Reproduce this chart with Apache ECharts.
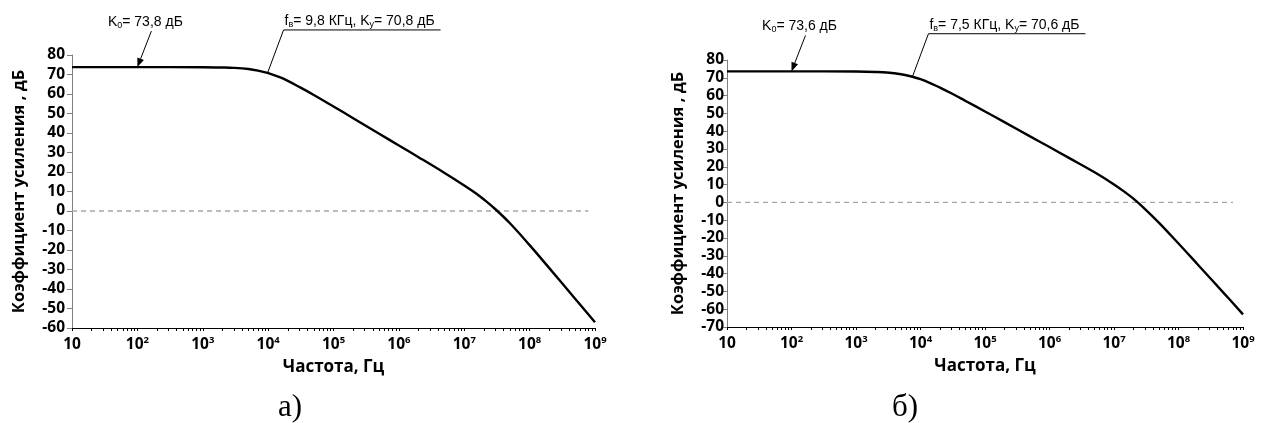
<!DOCTYPE html>
<html>
<head>
<meta charset="utf-8">
<script src="https://cdn.jsdelivr.net/npm/echarts@6/dist/echarts.min.js"></script>
<style>
  html, body { margin: 0; padding: 0; background: #fff; }
  #chart { width: 1264px; height: 423px; }
</style>
</head>
<body>
<div id="chart"></div>
<script>
// Frequency response of the amplifier, two variants (а and б)
const freqA = [10, 100, 1000, 2000, 3000, 5000, 7000, 9800, 15000, 20000, 30000, 50000,
  1e5, 2e5, 5e5, 1e6, 2e6, 5e6, 1e7, 1.5e7, 2e7, 3e7, 5e7, 1e8, 2e8, 5e8, 1e9];
const gainA = [73.8, 73.8, 73.75, 73.6, 73.4, 72.8, 72.0, 70.8, 68.6, 66.7, 63.6, 59.5,
  53.6, 47.6, 39.6, 33.6, 27.6, 19.5, 13.1, 9.1, 5.9, 0.9, -6.3, -17.5, -29.3, -45.1, -57.1];

const freqB = [10, 100, 1000, 2000, 3000, 5000, 7500, 10000, 15000, 20000, 30000, 50000,
  1e5, 2e5, 5e5, 1e6, 2e6, 5e6, 1e7, 1.5e7, 2e7, 3e7, 5e7, 1e8, 2e8, 5e8, 1e9];
const gainB = [73.6, 73.6, 73.5, 73.3, 73.0, 72.0, 70.6, 69.2, 66.6, 64.5, 61.3, 57.0,
  51.1, 45.1, 37.1, 31.1, 25.0, 16.9, 10.1, 5.6, 2.1, -3.6, -11.5, -23.1, -35.0, -50.8, -62.9];

// Annotated points: K0 at 100 Hz and the upper cutoff frequency
const noteA = { k0: 73.8, fb: 9800, kb: 70.8, fbText: '9,8', k0Text: '73,8', kbText: '70,8' };
const noteB = { k0: 73.6, fb: 7500, kb: 70.6, fbText: '7,5', k0Text: '73,6', kbText: '70,6' };

// Zero-level reference line extent
const zeroLineA = [[10, 0], [7.9e8, 0]];
const zeroLineB = [[10, 0], [7.0e8, 0]];

// Decade labels and ticks at 1..9 within every decade
const majorTicks = [10, 100, 1e3, 1e4, 1e5, 1e6, 1e7, 1e8, 1e9];
const allTicks = [];
for (let d = 10; d < 1e9; d *= 10) {
  for (let m = 1; m <= 9; m++) allTicks.push(d * m);
}
allTicks.push(1e9);

const axisFont = '"Open Sans", "DejaVu Sans", sans-serif';
const noteFont = '"Liberation Sans", Arial, sans-serif';

function xLabel(v) {
  const e = Math.round(Math.log10(v));
  return e === 1 ? '{b|10}' : '{b|10}{s|' + e + '}';
}

function xAxis(gridIndex) {
  return {
    type: 'log', gridIndex, min: 10, max: 1e9, logBase: 10, position: 'bottom',
    name: 'Частота, Гц', nameLocation: 'middle', nameGap: 31,
    nameTextStyle: { fontFamily: axisFont, fontWeight: 'bold', fontSize: 17, color: '#000' },
    axisLine: { onZero: false, lineStyle: { color: '#000', width: 1.2 } },
    axisTick: { customValues: allTicks, length: 3, lineStyle: { color: '#000' } },
    axisLabel: {
      customValues: majorTicks, margin: 7, formatter: xLabel,
      rich: {
        b: { fontFamily: axisFont, fontWeight: 'bold', fontSize: 15.5, color: '#000', lineHeight: 19 },
        s: { fontFamily: axisFont, fontWeight: 'bold', fontSize: 9.5, color: '#000', lineHeight: 10, verticalAlign: 'top' }
      }
    },
    splitLine: { show: false }
  };
}

function yAxis(gridIndex, min, gap, margin) {
  return {
    type: 'value', gridIndex, min, max: 80, interval: 10,
    name: 'Коэффициент усиления , дБ', nameLocation: 'middle', nameGap: gap,
    nameTextStyle: { fontFamily: axisFont, fontWeight: 'bold', fontSize: 16.5, color: '#000' },
    axisLine: { show: true, onZero: false, lineStyle: { color: '#808080', width: 1 } },
    axisTick: { show: true, length: 5, lineStyle: { color: '#808080' } },
    axisLabel: { fontFamily: axisFont, fontWeight: 'bold', fontSize: 15.5, color: '#000', margin },
    splitLine: { show: false }
  };
}

const chart = echarts.init(document.getElementById('chart'), null, { renderer: 'canvas' });

chart.setOption({
  backgroundColor: '#fff',
  animation: false,
  grid: [
    { left: 72, top: 55, width: 523, height: 273 },
    { left: 727, top: 60, width: 516, height: 267 }
  ],
  xAxis: [xAxis(0), xAxis(1)],
  yAxis: [yAxis(0, -60, 44, 7), yAxis(1, -70, 40, 3)],
  series: [
    {
      type: 'line', xAxisIndex: 0, yAxisIndex: 0, smooth: 0.4, symbol: 'none', z: 3,
      lineStyle: { color: '#000', width: 2.4 },
      data: freqA.map((f, i) => [f, gainA[i]])
    },
    {
      type: 'line', xAxisIndex: 1, yAxisIndex: 1, smooth: 0.4, symbol: 'none', z: 3,
      lineStyle: { color: '#000', width: 2.4 },
      data: freqB.map((f, i) => [f, gainB[i]])
    },
    {
      type: 'line', xAxisIndex: 0, yAxisIndex: 0, symbol: 'none', z: 1,
      lineStyle: { color: '#a6a6a6', width: 1.3, type: [5, 4] },
      data: zeroLineA
    },
    {
      type: 'line', xAxisIndex: 1, yAxisIndex: 1, symbol: 'none', z: 1,
      lineStyle: { color: '#a6a6a6', width: 1.3, type: [5, 4] },
      data: zeroLineB
    }
  ]
});

// Callouts: arrow to the flat part (K0) and leader line to the cutoff point
const subRich = {
  n: { fontFamily: noteFont, fontSize: 14, color: '#000', lineHeight: 16 },
  s: { fontFamily: noteFont, fontSize: 9, color: '#000', lineHeight: 7, verticalAlign: 'bottom' }
};

function callouts(seriesIndex, note) {
  const tip = chart.convertToPixel({ seriesIndex }, [100, note.k0]);
  const cut = chart.convertToPixel({ seriesIndex }, [note.fb, note.kb]);
  const tail = [tip[0] + 14, tip[1] - 36];
  const dx = tip[0] - tail[0], dy = tip[1] - tail[1];
  const len = Math.hypot(dx, dy), ux = dx / len, uy = dy / len;
  const head = 9, half = 3.5;
  const base = [tip[0] - ux * head, tip[1] - uy * head];
  const elbow = [cut[0] + 16, cut[1] - 43];
  return [
    { type: 'line', shape: { x1: tail[0], y1: tail[1], x2: base[0], y2: base[1] },
      style: { stroke: '#000', lineWidth: 1 } },
    { type: 'polygon', shape: { points: [tip,
        [base[0] - uy * half, base[1] + ux * half],
        [base[0] + uy * half, base[1] - ux * half]] },
      style: { fill: '#000' } },
    { type: 'text', x: tail[0] - 6, y: tail[1] - 9,
      style: { text: '{n|K}{s|0}{n|= ' + note.k0Text + ' дБ}', rich: subRich,
        align: 'center', verticalAlign: 'middle' } },
    { type: 'polyline', shape: { points: [cut, elbow, [elbow[0] + 157, elbow[1]]] },
      style: { stroke: '#000', lineWidth: 1, fill: null } },
    { type: 'text', x: elbow[0] + 1, y: elbow[1] - 9,
      style: { text: '{n|f}{s|в}{n|= ' + note.fbText + ' КГц, K}{s|у}{n|= ' + note.kbText + ' дБ}',
        rich: subRich, align: 'left', verticalAlign: 'middle' } }
  ];
}

chart.setOption({
  graphic: [
    ...callouts(0, noteA),
    ...callouts(1, noteB),
    { type: 'text', x: 290, y: 408,
      style: { text: 'а)', fontFamily: '"Liberation Serif", "Times New Roman", serif', fontSize: 31,
        fill: '#000', align: 'center', verticalAlign: 'middle' } },
    { type: 'text', x: 905, y: 408,
      style: { text: 'б)', fontFamily: '"Liberation Serif", "Times New Roman", serif', fontSize: 31,
        fill: '#000', align: 'center', verticalAlign: 'middle' } }
  ]
});
</script>
</body>
</html>
